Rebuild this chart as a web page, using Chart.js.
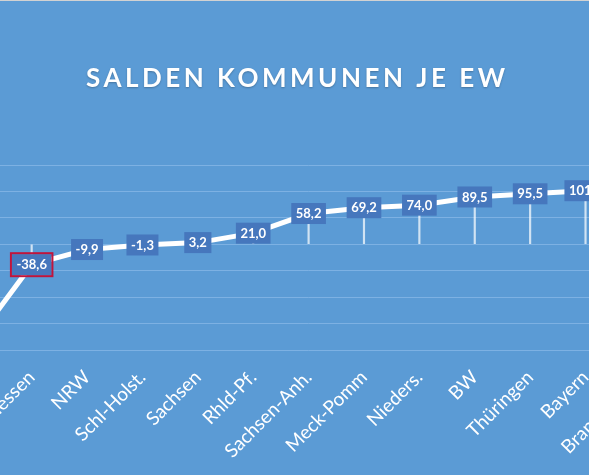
<!DOCTYPE html>
<html>
<head>
<meta charset="utf-8">
<script src="https://cdn.jsdelivr.net/npm/chart.js@4"></script>
<style>
  html, body { margin: 0; padding: 0; background: #5B9BD5; overflow: hidden; }
  #wrap { position: relative; width: 589px; height: 475px; overflow: hidden; }
  #c { position: absolute; left: -100px; top: 0; }
  #topline { position: absolute; left: 0; top: 0; width: 589px; height: 1px; background: #d2d2d2; }
</style>
</head>
<body>
<div id="wrap">
  <canvas id="c" width="800" height="475"></canvas>
  <div id="topline"></div>
</div>
<script>
// Salden je Einwohner, sortiert
const laender = ['Saarland', 'Hessen', 'NRW', 'Schl-Holst.', 'Sachsen', 'Rhld-Pf.', 'Sachsen-Anh.',
    'Meck-Pomm', 'Nieders.', 'BW', 'Thüringen', 'Bayern', 'Brandenburg'];
const salden = [-180.0, -38.6, -9.9, -1.3, 3.2, 21.0, 58.2, 69.2, 74.0, 89.5, 95.5, 101.4, 112.0];
const yTicks = [-200, -150, -100, -50, 0, 50, 100, 150];

const titel = 'SALDEN KOMMUNEN JE EW';
const markiert = 1; // Hessen

function fmt(v) {
    return v.toFixed(1).replace('.', ',');
}

// Hintergrund + Titel
const hintergrund = {
    id: 'hintergrund',
    beforeDraw(chart) {
        const ctx = chart.ctx;
        ctx.save();
        ctx.fillStyle = '#5B9BD5';
        ctx.fillRect(0, 0, chart.width, chart.height);
        ctx.restore();
    },
    afterDraw(chart) {
        const ctx = chart.ctx;
        ctx.save();
        ctx.font = 'bold 26px Lato';
        // Sperrung so, dass der Titel ca. 419px breit ist
        const roh = ctx.measureText(titel).width;
        const sp = Math.max(0, (419 - roh) / (titel.length - 1));
        ctx.letterSpacing = sp + 'px';
        ctx.fillStyle = '#ffffff';
        ctx.textAlign = 'left';
        ctx.textBaseline = 'alphabetic';
        ctx.shadowColor = 'rgba(0,0,0,0.25)';
        ctx.shadowOffsetY = 1;
        ctx.shadowBlur = 2;
        ctx.fillText(titel, 186, 87);
        ctx.restore();
    }
};

// Datenbeschriftungen in Kästchen
const beschriftung = {
    id: 'beschriftung',
    afterDatasetsDraw(chart) {
        const ctx = chart.ctx;
        const meta = chart.getDatasetMeta(0);
        ctx.save();
        ctx.font = 'bold 13px Lato';
        ctx.textAlign = 'center';
        ctx.textBaseline = 'middle';
        meta.data.forEach((pt, i) => {
            const txt = fmt(salden[i]);
            const w = ctx.measureText(txt).width + 9;
            const h = 21;
            ctx.fillStyle = '#4677BD';
            ctx.fillRect(pt.x - w / 2, pt.y - h / 2, w, h);
            if (i === markiert) {
                ctx.strokeStyle = '#C0143C';
                ctx.lineWidth = 2;
                ctx.strokeRect(pt.x - w / 2 - 1, pt.y - h / 2 - 1, w + 2, h + 2);
            }
            ctx.fillStyle = '#ffffff';
            ctx.fillText(txt, pt.x, pt.y + 0.5);
        });
        ctx.restore();
    }
};

new Chart(document.getElementById('c'), {
    type: 'line',
    data: {
        labels: laender,
        datasets: [
            {
                type: 'line',
                data: salden,
                borderColor: '#ffffff',
                borderWidth: 5,
                pointRadius: 0,
                tension: 0,
                order: 0
            },
            {
                // Lotlinien zur Nulllinie
                type: 'bar',
                data: salden,
                backgroundColor: 'rgba(255,255,255,0.72)',
                barThickness: 1.5,
                order: 1
            }
        ]
    },
    options: {
        responsive: false,
        animation: false,
        devicePixelRatio: 1,
        layout: {
            padding: { left: 48.6, right: 31.4, top: 165, bottom: 0 }
        },
        scales: {
            x: {
                offset: true,
                grid: { display: false },
                border: { display: false },
                afterFit: function(scale) { scale.height = 125; },
                ticks: {
                    color: '#ffffff',
                    font: { family: 'Lato', size: 19 },
                    maxRotation: 45,
                    minRotation: 45,
                    autoSkip: false,
                    padding: 8
                }
            },
            y: {
                min: -200,
                max: 150,
                afterFit: function(scale) { scale.width = 0; },
                afterBuildTicks: function(scale) {
                    scale.ticks = yTicks.map(v => ({ value: v }));
                },
                grid: { color: '#7DB1E3', lineWidth: 1, drawTicks: false },
                border: { display: false },
                ticks: { display: false }
            }
        },
        plugins: {
            legend: { display: false },
            tooltip: { enabled: false }
        }
    },
    plugins: [hintergrund, beschriftung]
});
</script>
</body>
</html>
